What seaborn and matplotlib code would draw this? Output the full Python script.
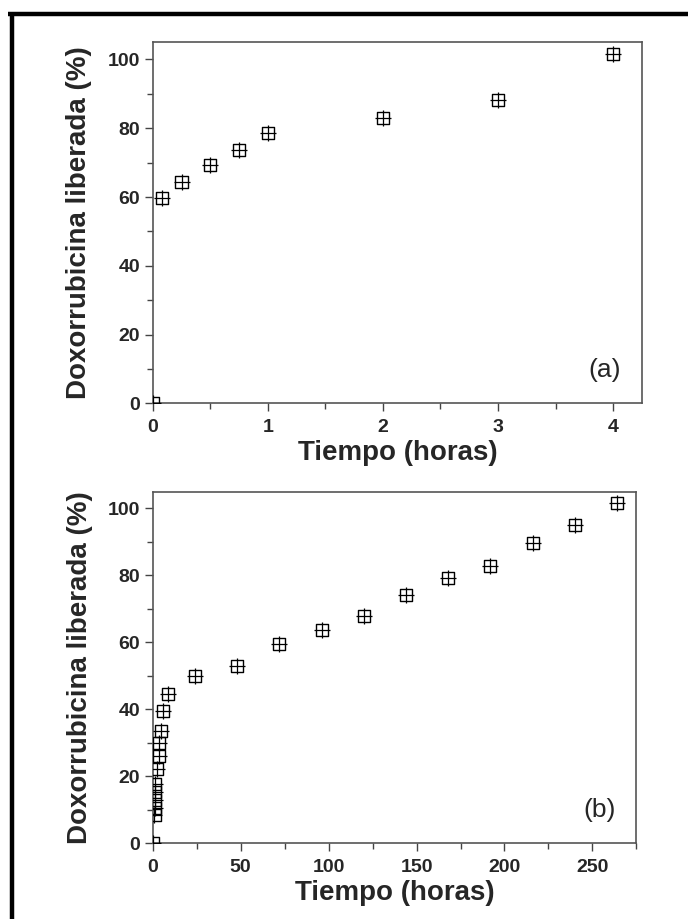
import matplotlib
matplotlib.use("Agg")
import matplotlib.pyplot as plt
from matplotlib.lines import Line2D
from matplotlib.ticker import MultipleLocator
import seaborn as sns
import pandas as pd

# panel (a): first hours
tiempo_a = [0, 0.083, 0.25, 0.5, 0.75, 1, 2, 3, 4]
liberada_a = [0, 59.8, 64.4, 69.3, 73.6, 78.6, 83.1, 88.2, 101.5]

# panel (b): whole experiment
tiempo_b = [0, 1.0, 1.1, 1.25, 1.4, 1.5, 2.7, 3.3, 3.7, 4.6, 5.6, 8.5,
            24, 48, 72, 96, 120, 144, 168, 192, 216, 240, 264]
liberada_b = [0, 8.5, 10.5, 12.8, 15.2, 17.8, 22.2, 26.2, 30.0, 33.5, 39.5, 44.5,
              49.9, 52.9, 59.6, 63.8, 67.8, 74.1, 79.1, 82.7, 89.6, 95.1, 101.5]

sns.set_style("ticks")
plt.rcParams['font.family'] = ['Liberation Sans', 'DejaVu Sans']

fig = plt.figure(figsize=(6.88, 9.19), dpi=100)
ax_a = fig.add_axes([0.222, 0.561, 0.711, 0.393])
ax_b = fig.add_axes([0.222, 0.0824, 0.703, 0.3826])


def draw_panel(ax, t, y, xmax, xmajor, xminor, tag, tag_y):
    df = pd.DataFrame({'t': t, 'y': y})
    sns.scatterplot(data=df, x='t', y='y', ax=ax, marker='s', s=75,
                    facecolor='none', edgecolor='black', linewidth=1.0, zorder=3)
    sns.scatterplot(data=df, x='t', y='y', ax=ax, marker='+', s=120,
                    color='black', linewidth=0.9, zorder=4)
    ax.set_xlim(0, xmax)
    ax.set_ylim(0, 105)
    ax.xaxis.set_major_locator(MultipleLocator(xmajor))
    ax.xaxis.set_minor_locator(MultipleLocator(xminor))
    ax.yaxis.set_major_locator(MultipleLocator(20))
    ax.yaxis.set_minor_locator(MultipleLocator(10))
    ax.tick_params(which='both', direction='out', top=False, right=False,
                   color='#444444', width=1.0)
    ax.tick_params(which='major', length=6, labelsize=14)
    ax.tick_params(which='minor', length=4)
    ax.tick_params(axis='x', which='major', pad=5)
    ax.tick_params(axis='y', which='major', pad=3)
    for sp in ax.spines.values():
        sp.set_visible(True)
        sp.set_color('#555555')
        sp.set_linewidth(1.2)
    for lab in ax.get_xticklabels() + ax.get_yticklabels():
        lab.set_fontweight('bold')
    ax.set_xlabel('Tiempo (horas)', fontsize=20, fontweight='bold', labelpad=3)
    ax.set_ylabel('Doxorrubicina liberada (%)', fontsize=20, fontweight='bold')
    ax.yaxis.set_label_coords(-0.124, 0.5)
    ax.text(0.958, tag_y, tag, transform=ax.transAxes, ha='right', va='center',
            fontsize=19, fontweight='medium')


draw_panel(ax_a, tiempo_a, liberada_a, 4.25, 1, 0.5, '(a)', 0.092)
draw_panel(ax_b, tiempo_b, liberada_b, 275, 50, 25, '(b)', 0.096)

# thick frame on top and left
fig.add_artist(Line2D([0.012, 1.0], [0.9845, 0.9845], transform=fig.transFigure,
                      color='black', linewidth=3.2, solid_capstyle='butt'))
fig.add_artist(Line2D([0.0174, 0.0174], [0.0, 0.9865], transform=fig.transFigure,
                      color='black', linewidth=3.2, solid_capstyle='butt'))

fig.savefig('out.png', dpi=100, facecolor='white')
